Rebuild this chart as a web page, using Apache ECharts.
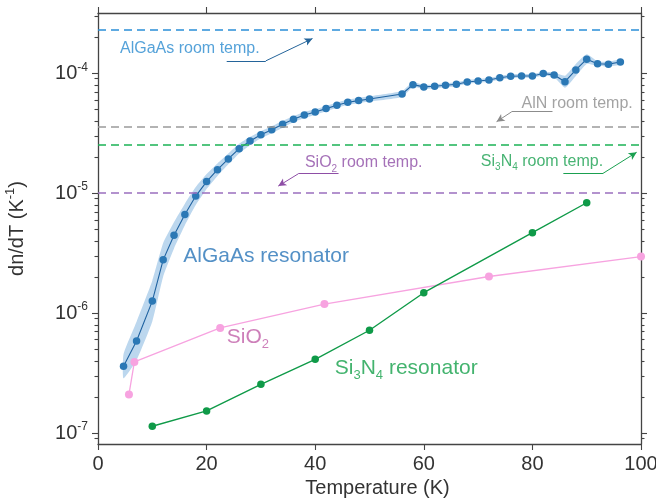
<!DOCTYPE html>
<html>
<head>
<meta charset="utf-8">
<script src="https://cdn.jsdelivr.net/npm/echarts@6/dist/echarts.min.js"></script>
<style>
html,body{margin:0;padding:0;background:#fff}
#chart{width:656px;height:499px}
</style>
</head>
<body>
<div id="chart"></div>
<script>
// AlGaAs resonator (blue dots + shaded band)
var algaasT = [4.7, 7.1, 10, 12, 14, 16, 18, 20, 22, 24, 26, 28, 30, 32, 34, 36, 38, 40, 42, 44, 46, 48, 50,
	56, 58, 60, 62, 64, 66, 68, 70, 72, 74, 76, 78, 80, 82, 84, 86, 88, 90, 92, 94, 96.2];
var algaasDndt = [3.6e-7, 5.86e-7, 1.26e-6, 2.78e-6, 4.46e-6, 6.65e-6, 9.46e-6, 1.25e-5, 1.57e-5, 1.93e-5, 2.35e-5,
	2.72e-5, 3.07e-5, 3.38e-5, 3.75e-5, 4.13e-5, 4.48e-5, 4.75e-5, 5.07e-5, 5.41e-5, 5.73e-5, 5.91e-5, 6.1e-5,
	6.71e-5, 8.03e-5, 7.69e-5, 7.79e-5, 7.94e-5, 8.09e-5, 8.46e-5, 8.62e-5, 8.79e-5, 9.18e-5, 9.44e-5, 9.49e-5,
	9.49e-5, 9.93e-5, 9.68e-5, 8.5e-5, 1.066e-4, 1.31e-4, 1.2e-4, 1.19e-4, 1.24e-4];
// half width of the shaded band, in decades
var algaasBand = [0.1, 0.16, 0.17, 0.14, 0.11, 0.09, 0.075, 0.062, 0.052, 0.045, 0.04, 0.035, 0.03, 0.03, 0.028,
	0.025, 0.025, 0.022, 0.022, 0.022, 0.022, 0.022, 0.022, 0.025, 0.02, 0.016, 0.016, 0.016, 0.016, 0.016, 0.016,
	0.016, 0.016, 0.016, 0.016, 0.016, 0.016, 0.02, 0.05, 0.05, 0.04, 0.02, 0.02, 0.02];

var sio2T = [5.7, 6.7, 22.5, 41.7, 72, 100];
var sio2Dndt = [2.1e-7, 3.92e-7, 7.52e-7, 1.19e-6, 2.02e-6, 2.96e-6];

var sinT = [10, 20, 30, 40, 50, 60, 80, 90];
var sinDndt = [1.14e-7, 1.53e-7, 2.55e-7, 4.12e-7, 7.2e-7, 1.48e-6, 4.68e-6, 8.32e-6];

// room temperature values (dashed lines)
var roomMaterials = ['AlGaAs', 'AlN', 'Si3N4', 'SiO2'];
var roomDndt = [2.3e-4, 3.58e-5, 2.53e-5, 1.0e-5];
var roomColors = ['#2a8fd8', '#9a9a9a', '#1bb255', '#9b6fbf'];

var xTicks = [0, 20, 40, 60, 80, 100];
var yDecades = [-7, -6, -5, -4];

var yMin = -7.091, yMax = -3.498;

function lg(v){ return Math.log10(v); }

var yMinor = [];
for (var d = -8; d <= -4; d++) {
	for (var k = 2; k <= 9; k++) {
		var v = d + lg(k);
		if (v > yMin && v < yMax) yMinor.push(v);
	}
}

var font = 'Liberation Sans';

function yAxisDef(pos, minor){
	return {
		type: 'value', position: pos, min: yMin, max: yMax,
		splitLine: {show: false},
		axisLine: {show: !minor, lineStyle: {color: '#444', width: 1.3}},
		axisTick: {show: true, customValues: minor ? yMinor : yDecades, length: minor ? 3.5 : 6,
			lineStyle: {color: '#444', width: 1.1}},
		axisLabel: {
			show: pos == 'left' && !minor,
			customValues: yDecades,
			margin: 10,
			formatter: function(val){ return '{b|10}{s|' + Math.round(val) + '}'; },
			rich: {
				b: {fontFamily: font, fontSize: 20, color: '#333', lineHeight: 24},
				s: {fontFamily: font, fontSize: 12, color: '#333', lineHeight: 13, verticalAlign: 'top'}
			}
		},
		name: (pos == 'left' && !minor) ? '{a|dn/dT (K}{s|-1}{a|)}' : '',
		nameLocation: 'middle',
		nameGap: 68,
		nameTextStyle: {
			rich: {
				a: {fontFamily: font, fontSize: 20, color: '#333', lineHeight: 26},
				s: {fontFamily: font, fontSize: 13, color: '#333', lineHeight: 14, verticalAlign: 'top'}
			}
		}
	};
}

function xAxisDef(pos){
	return {
		type: 'value', position: pos, min: 0, max: 100, interval: 20,
		splitLine: {show: false},
		axisLine: {lineStyle: {color: '#444', width: 1.3}},
		axisTick: {length: 6, lineStyle: {color: '#444', width: 1.1}},
		axisLabel: {show: pos == 'bottom', margin: 10, fontFamily: font, fontSize: 20, color: '#333'},
		name: pos == 'bottom' ? 'Temperature (K)' : '',
		nameLocation: 'middle',
		nameGap: 33,
		nameTextStyle: {fontFamily: font, fontSize: 20, color: '#333', padding: [0, 0, 0, 16]}
	};
}

var bandRows = algaasT.map(function(t, i){
	var c = lg(algaasDndt[i]);
	return [t, c - algaasBand[i], c + algaasBand[i]];
});

function pts(xs, ys){ return xs.map(function(x, i){ return [x, lg(ys[i])]; }); }

function richSet(size, color){
	return {
		a: {fontFamily: font, fontSize: size, color: color, lineHeight: size + 6},
		s: {fontFamily: font, fontSize: Math.round(size * 0.62), color: color,
			lineHeight: Math.round(size * 0.62) + 1, verticalAlign: 'bottom'}
	};
}

// annotation text: left edge x, vertical centre (log10)
var notes = [
	{pos: [4.05, -3.793], text: '{a|AlGaAs room temp.}', color: '#2a8bd0', size: 16},
	{pos: [78.0, -4.250], text: '{a|AlN room temp.}', color: '#8c8c8c', size: 16},
	{pos: [70.5, -4.738], text: '{a|Si}{s|3}{a|N}{s|4}{a| room temp.}', color: '#1aa050', size: 16},
	{pos: [38.1, -4.749], text: '{a|SiO}{s|2}{a| room temp.}', color: '#8e4ea6', size: 16},
	{pos: [15.7, -5.525], text: '{a|AlGaAs resonator}', color: '#2874b8', size: 21},
	{pos: [23.7, -6.201], text: '{a|SiO}{s|2}', color: '#c05fa8', size: 21},
	{pos: [43.6, -6.46], text: '{a|Si}{s|3}{a|N}{s|4}{a| resonator}', color: '#14a04a', size: 21}
];

// arrow polylines: underline then arrow
var arrows = [
	{pts: [[23.7, -3.897], [30.9, -3.897], [39.5, -3.711]], color: '#24649a'},
	{pts: [[83.7, -4.321], [76.2, -4.321], [73.4, -4.404]], color: '#8c8c8c'},
	{pts: [[85.7, -4.835], [93.0, -4.835], [99.2, -4.659]], color: '#1aa050'},
	{pts: [[44.3, -4.838], [36.9, -4.838], [33.2, -4.941]], color: '#8e4ea6'}
];

var arrowLines = [];
arrows.forEach(function(a){
	for (var i = 0; i < a.pts.length - 1; i++) {
		var last = i == a.pts.length - 2;
		arrowLines.push([
			{coord: a.pts[i], symbol: 'none', lineStyle: {color: a.color, width: 1, type: 'solid'}},
			{coord: a.pts[i + 1], symbol: last ? 'arrow' : 'none', symbolSize: [6, 8]}
		]);
	}
});

function renderBand(params, api){
	if (params.dataIndex !== 0) return;
	var upper = [], lower = [];
	for (var i = 0; i < bandRows.length; i++) {
		upper.push(api.coord([bandRows[i][0], bandRows[i][2]]));
		lower.unshift(api.coord([bandRows[i][0], bandRows[i][1]]));
	}
	return {
		type: 'polygon',
		shape: {points: upper.concat(lower), smooth: 0.15},
		style: {fill: '#bcd7ee'},
		silent: true
	};
}

var myChart = echarts.init(document.getElementById('chart'));
myChart.setOption({
	animation: false,
	grid: {left: 98, right: 15, top: 13, bottom: 55, containLabel: false, outerBoundsMode: 'none'},
	xAxis: [xAxisDef('bottom'), xAxisDef('top')],
	yAxis: [yAxisDef('left', false), yAxisDef('left', true), yAxisDef('right', false), yAxisDef('right', true)],
	series: [
		{
			type: 'custom', name: 'band', renderItem: renderBand, data: bandRows,
			encode: {x: 0, y: [1, 2]}, silent: true, clip: true
		},
		{
			type: 'line', name: 'room', data: [], silent: true,
			markLine: {
				silent: true, symbol: 'none', label: {show: false},
				data: roomDndt.map(function(v, i){
					return {yAxis: lg(v), lineStyle: {color: roomColors[i], width: 1.5, type: [8, 5]}};
				})
			}
		},
		{
			type: 'line', name: 'SiO2', data: pts(sio2T, sio2Dndt),
			symbol: 'circle', symbolSize: 8,
			lineStyle: {color: '#f7a3e0', width: 1.3}, itemStyle: {color: '#f7a3e0'}
		},
		{
			type: 'line', name: 'Si3N4', data: pts(sinT, sinDndt),
			symbol: 'circle', symbolSize: 7.5,
			lineStyle: {color: '#0f9a48', width: 1.4}, itemStyle: {color: '#0f9a48'}
		},
		{
			type: 'line', name: 'AlGaAs', data: pts(algaasT, algaasDndt),
			symbol: 'circle', symbolSize: 7.5,
			lineStyle: {color: '#1f62a0', width: 1.1}, itemStyle: {color: '#2b78b5'}
		},
		{
			type: 'scatter', name: 'notes', silent: true,
			symbolSize: 0.1, itemStyle: {color: 'rgba(0,0,0,0)'},
			data: notes.map(function(n){
				return {
					value: n.pos,
					label: {show: true, position: 'right', distance: 0, formatter: n.text, rich: richSet(n.size, n.color)}
				};
			}),
			markLine: {silent: true, label: {show: false}, symbol: 'none', data: arrowLines}
		}
	]
});
</script>
</body>
</html>
